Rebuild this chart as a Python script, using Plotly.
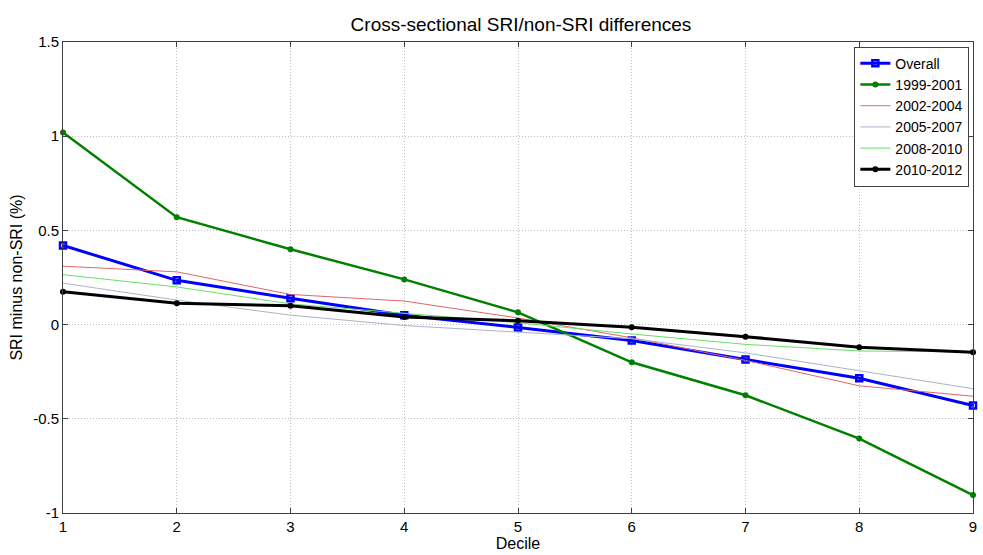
import plotly.graph_objects as go

deciles = [1, 2, 3, 4, 5, 6, 7, 8, 9]
overall = [0.42, 0.235, 0.14, 0.05, -0.015, -0.085, -0.185, -0.285, -0.43]
p1999_2001 = [1.02, 0.57, 0.40, 0.24, 0.065, -0.20, -0.375, -0.605, -0.905]
p2002_2004 = [0.31, 0.28, 0.16, 0.125, 0.035, -0.07, -0.19, -0.325, -0.38]
p2005_2007 = [0.22, 0.13, 0.05, -0.005, -0.04, -0.075, -0.15, -0.245, -0.34]
p2008_2010 = [0.265, 0.20, 0.11, 0.06, 0.01, -0.05, -0.105, -0.14, -0.145]
p2010_2012 = [0.175, 0.113, 0.10, 0.04, 0.02, -0.014, -0.064, -0.12, -0.147]

y_tickvals = [1.5, 1, 0.5, 0, -0.5, -1]
y_ticktext = ["1.5", "1", "0.5", "0", "-0.5", "-1"]
x_tickvals = [1, 2, 3, 4, 5, 6, 7, 8, 9]

font_family = "Liberation Sans, Arial, sans-serif"

fig = go.Figure()
fig.add_trace(go.Scatter(x=deciles, y=overall, name="Overall", mode="lines+markers",
                         line=dict(color="#0000ff", width=3),
                         marker=dict(symbol="square-open", size=6, color="#0000ff", line=dict(width=2.5)),
                         cliponaxis=False))
fig.add_trace(go.Scatter(x=deciles, y=p1999_2001, name="1999-2001", mode="lines+markers",
                         line=dict(color="#008000", width=2.5),
                         marker=dict(symbol="circle", size=6, color="#008000"),
                         cliponaxis=False))
fig.add_trace(go.Scatter(x=deciles, y=p2002_2004, name="2002-2004", mode="lines",
                         line=dict(color="#e06666", width=1), cliponaxis=False))
fig.add_trace(go.Scatter(x=deciles, y=p2005_2007, name="2005-2007", mode="lines",
                         line=dict(color="#a8b4c8", width=1), cliponaxis=False))
fig.add_trace(go.Scatter(x=deciles, y=p2008_2010, name="2008-2010", mode="lines",
                         line=dict(color="#66e066", width=1), cliponaxis=False))
fig.add_trace(go.Scatter(x=deciles, y=p2010_2012, name="2010-2012", mode="lines+markers",
                         line=dict(color="#000000", width=3),
                         marker=dict(symbol="circle", size=6, color="#000000"),
                         cliponaxis=False))

axis_common = dict(showgrid=True, gridcolor="#bdbdbd", griddash="1px,2px", gridwidth=1,
                   zeroline=False, showline=True, linecolor="#404040", linewidth=1,
                   mirror="ticks", ticks="inside", ticklen=5, tickcolor="#404040",
                   tickfont=dict(family=font_family, size=15, color="#000000"))

fig.update_layout(
    width=983, height=555,
    margin=dict(l=63, r=6, t=42, b=42),
    paper_bgcolor="white", plot_bgcolor="white",
    title=dict(text="Cross-sectional SRI/non-SRI differences", x=0.53, xanchor="center",
               y=0.957, yanchor="middle",
               font=dict(family=font_family, size=19, color="#000000")),
    xaxis=dict(range=[1, 9], tickvals=x_tickvals, ticktext=[str(v) for v in x_tickvals],
               title=dict(text="Decile", standoff=2, font=dict(family=font_family, size=16, color="#000000")),
               **axis_common),
    yaxis=dict(range=[-1, 1.5], tickvals=y_tickvals, ticktext=y_ticktext,
               title=dict(text="SRI minus non-SRI (%)", standoff=6, font=dict(family=font_family, size=16, color="#000000")),
               **axis_common),
    legend=dict(x=0.996, y=0.99, xanchor="right", yanchor="top",
                bgcolor="white", bordercolor="#404040", borderwidth=1,
                font=dict(family=font_family, size=14, color="#000000"),
                tracegroupgap=0, itemwidth=30),
    showlegend=True,
)

fig.write_html("out.html")
